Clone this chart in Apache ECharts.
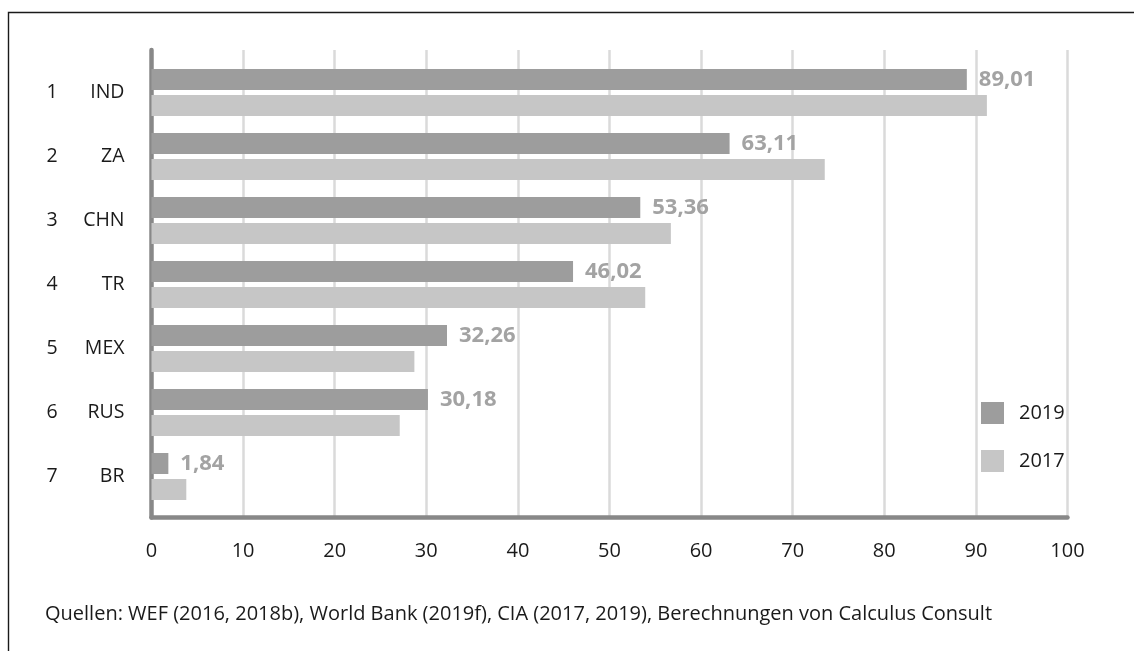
<!DOCTYPE html>
<html>
<head>
<meta charset="utf-8">
<script src="https://cdn.jsdelivr.net/npm/echarts@6/dist/echarts.min.js"></script>
<style>
  html, body { margin: 0; padding: 0; background: #fff; }
  #chart { width: 1134px; height: 651px; }
</style>
</head>
<body>
<div id="chart"></div>
<script>
// Ranking numbers and country codes
const ranks = ['1', '2', '3', '4', '5', '6', '7'];
const countries = ['IND', 'ZA', 'CHN', 'TR', 'MEX', 'RUS', 'BR'];
// Index values per year
const values2019 = [89.01, 63.11, 53.36, 46.02, 32.26, 30.18, 1.84];
const values2017 = [91.2, 73.5, 56.7, 53.9, 28.7, 27.1, 3.8];
const seriesNames = ['2019', '2017'];
const sourceNote = 'Quellen: WEF (2016, 2018b), World Bank (2019f), CIA (2017, 2019), Berechnungen von Calculus Consult';

const FONT = '"Open Sans", sans-serif';
const DARK = '#9d9d9d';
const LIGHT = '#c6c6c6';
const TEXT = '#1a1a1a';

const categories = countries.map((c, i) => ranks[i] + '|' + c);

const plotLeft = 151.5;
const plotRight = 1134 - 1067.5;

const chart = echarts.init(document.getElementById('chart'), null, { renderer: 'canvas' });

chart.setOption({
  backgroundColor: '#ffffff',
  animation: false,
  textStyle: { fontFamily: FONT },
  title: {
    text: sourceNote,
    left: 45,
    top: 604,
    padding: 0,
    textStyle: { fontFamily: FONT, fontSize: 20, fontWeight: 'normal', color: TEXT }
  },
  legend: {
    data: seriesNames,
    orient: 'vertical',
    left: 981,
    top: 402,
    padding: 0,
    itemWidth: 23,
    itemHeight: 22,
    itemGap: 26,
    icon: 'rect',
    textStyle: { fontFamily: FONT, fontSize: 20, color: TEXT, padding: [0, 0, 0, 10] }
  },
  graphic: [{
    type: 'polyline',
    shape: { points: [[8.5, 660], [8.5, 12.5], [1140, 12.5]] },
    style: { stroke: '#1a1a1a', lineWidth: 1.4, fill: null },
    silent: true
  }],
  grid: [
    // value scale: gridlines, frame axes, tick labels
    { left: plotLeft, right: plotRight, top: 50, bottom: 651 - 517.5, containLabel: false },
    // bars
    { left: plotLeft, right: plotRight, top: 60.5, height: 448, containLabel: false }
  ],
  xAxis: [
    {
      gridIndex: 0, type: 'value', min: 0, max: 100, interval: 10,
      axisLine: { show: true, lineStyle: { color: '#888888', width: 4.5 } },
      axisTick: { show: false },
      axisLabel: { color: TEXT, fontSize: 20, fontFamily: FONT, margin: 24 },
      splitLine: { show: true, lineStyle: { color: '#dadada', width: 2.5 } }
    },
    {
      gridIndex: 1, type: 'value', min: 0, max: 100, interval: 10, show: false
    }
  ],
  yAxis: [
    {
      gridIndex: 0, type: 'value', min: 0, max: 1,
      axisLine: { show: true, lineStyle: { color: '#888888', width: 4.5 } },
      axisTick: { show: false }, axisLabel: { show: false }, splitLine: { show: false }
    },
    {
      gridIndex: 1, type: 'category', data: categories, inverse: true,
      axisLine: { show: false }, axisTick: { show: false }, splitLine: { show: false },
      axisLabel: {
        margin: 27,
        formatter: function (v) {
          const p = v.split('|');
          return '{n|' + p[0] + '}{c|' + p[1] + '}';
        },
        rich: {
          n: { width: 30, align: 'left', fontSize: 19.5, fontFamily: FONT, color: TEXT },
          c: { width: 48, align: 'right', fontSize: 19.5, fontFamily: FONT, color: TEXT }
        }
      }
    }
  ],
  series: [
    {
      name: seriesNames[0], type: 'bar', xAxisIndex: 1, yAxisIndex: 1,
      data: values2019, barWidth: 21, barGap: '24%',
      itemStyle: { color: DARK },
      label: {
        show: true, position: 'right', distance: 12,
        fontFamily: FONT, fontSize: 22, fontWeight: 'bold', color: '#a3a3a3',
        formatter: p => p.value.toFixed(2).replace('.', ',')
      }
    },
    {
      name: seriesNames[1], type: 'bar', xAxisIndex: 1, yAxisIndex: 1,
      data: values2017, barWidth: 21, barGap: '24%',
      itemStyle: { color: LIGHT }
    }
  ]
});
</script>
</body>
</html>
